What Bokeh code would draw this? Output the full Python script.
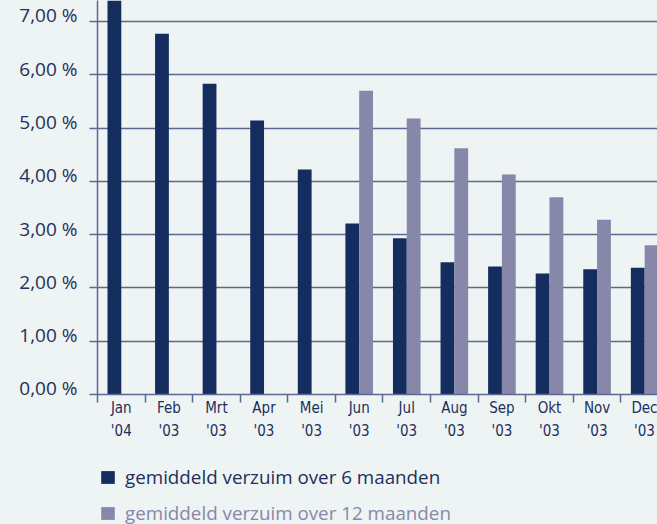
import numpy as np
from bokeh.plotting import figure
from bokeh.layouts import column
from bokeh.models import Range1d, FixedTicker, Legend, LegendItem, ColumnDataSource
from bokeh.embed import file_html
from bokeh.resources import INLINE

months = ["Jan", "Feb", "Mrt", "Apr", "Mei", "Jun", "Jul", "Aug", "Sep", "Okt", "Nov", "Dec"]
years = ["'04", "'03", "'03", "'03", "'03", "'03", "'03", "'03", "'03", "'03", "'03", "'03"]
verzuim_6 = [7.60, 6.77, 5.83, 5.14, 4.22, 3.21, 2.93, 2.48, 2.40, 2.27, 2.35, 2.38]
verzuim_12 = [None, None, None, None, None, 5.70, 5.18, 4.62, 4.13, 3.70, 3.28, 2.80]
y_ticks = [0, 1, 2, 3, 4, 5, 6, 7]
y_labels = ["0,00 %", "1,00 %", "2,00 %", "3,00 %", "4,00 %", "5,00 %", "6,00 %", "7,00 %"]
label_6 = "gemiddeld verzuim over 6 maanden"
label_12 = "gemiddeld verzuim over 12 maanden"

BG = "#eef3f3"
DARK = "#152c5e"
LIGHT = "#8787a9"
GRID = "#5b6990"
TEXT = "#1e2f5c"

n = len(months)
centers = np.arange(n) + 0.5
bw = 0.29

src6 = ColumnDataSource(dict(x=centers - bw / 2, top=verzuim_6))
x12 = [c + bw / 2 for c, v in zip(centers, verzuim_12) if v is not None]
t12 = [v for v in verzuim_12 if v is not None]
src12 = ColumnDataSource(dict(x=x12, top=t12))

p = figure(width=657, height=454, output_backend="svg", toolbar_location=None,
           x_range=Range1d(0, 11.77), y_range=Range1d(0, 394 / 53.29),
           min_border_left=97, min_border_right=0, min_border_top=0, min_border_bottom=60)
p.background_fill_color = BG
p.border_fill_color = BG
p.outline_line_color = None

p.vbar(x="x", top="top", width=bw, bottom=0, source=src6, color=DARK, line_color=None)
p.vbar(x="x", top="top", width=bw, bottom=0, source=src12, color=LIGHT, line_color=None)

# grid
p.xgrid.visible = False
p.ygrid.ticker = FixedTicker(ticks=y_ticks)
p.ygrid.grid_line_color = GRID
p.ygrid.grid_line_width = 1.5

# y axis
ya = p.yaxis[0]
ya.ticker = FixedTicker(ticks=y_ticks)
ya.major_label_overrides = {t: l + "\n" for t, l in zip(y_ticks, y_labels)}
ya.major_label_text_font = "Open Sans"
ya.major_label_text_font_size = "19px"
ya.major_label_text_line_height = 0.47
ya.major_label_text_color = TEXT
ya.major_tick_out = 8
ya.major_tick_in = 0
ya.minor_tick_out = 0
ya.minor_tick_in = 0
ya.major_tick_line_color = GRID
ya.major_tick_line_width = 1.5
ya.axis_line_color = GRID
ya.axis_line_width = 1.5
ya.major_label_standoff = 12

# x axis
xa = p.xaxis[0]
xa.ticker = FixedTicker(ticks=list(centers), minor_ticks=list(np.arange(n + 1)))
xa.major_label_overrides = {float(c): f"{m}\n{y}" for c, m, y in zip(centers, months, years)}
xa.major_label_text_font = "DejaVu Sans Condensed"
xa.major_label_text_font_size = "15px"
xa.major_label_text_color = TEXT
xa.major_label_text_line_height = 1.33
xa.major_tick_out = 0
xa.major_tick_in = 0
xa.minor_tick_out = 8
xa.minor_tick_in = 0
xa.minor_tick_line_color = GRID
xa.minor_tick_line_width = 1.5
xa.axis_line_color = GRID
xa.axis_line_width = 1.5
xa.major_label_standoff = -4

# legend strip (bars themselves lie outside this strip's visible range)
pl = figure(width=657, height=70, output_backend="svg", toolbar_location=None,
            x_range=Range1d(100, 101), y_range=Range1d(100, 101),
            x_axis_type=None, y_axis_type=None,
            min_border_left=0, min_border_right=0, min_border_top=0, min_border_bottom=0)
pl.background_fill_color = BG
pl.border_fill_color = BG
pl.outline_line_color = None
pl.xgrid.visible = False
pl.ygrid.visible = False
g6 = pl.vbar(x="x", top="top", width=bw, bottom=0, source=src6, color=DARK, line_color=None)
g12 = pl.vbar(x="x", top="top", width=bw, bottom=0, source=src12, color=LIGHT, line_color=None)

for item, color, renderer, loc in [(label_6, TEXT, g6, (2, 34)), (label_12, LIGHT, g12, (2, -2))]:
    lg = Legend(items=[LegendItem(label=item, renderers=[renderer])], location=loc,
                orientation="vertical")
    lg.label_text_font = "Open Sans"
    lg.label_text_font_size = "18.8px"
    lg.label_text_color = color
    lg.glyph_width = 17
    lg.glyph_height = 16
    lg.label_standoff = 9
    lg.padding = 0
    lg.margin = 0
    lg.border_line_color = None
    lg.background_fill_alpha = 0
    lg.label_height = 20
    pl.add_layout(lg, "center")

layout = column(p, pl, spacing=0, styles={"background-color": BG})
open("out.html", "w").write(file_html(layout, INLINE))
